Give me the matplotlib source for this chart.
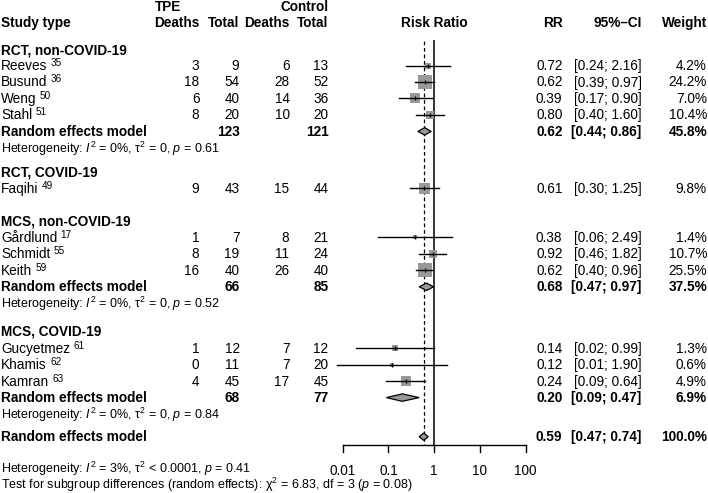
import matplotlib
matplotlib.use("Agg")
import matplotlib.pyplot as plt
from matplotlib.patches import Polygon

plt.rcParams['font.family'] = ['Liberation Sans', 'DejaVu Sans']
plt.rcParams['mathtext.fontset'] = 'custom'
plt.rcParams['mathtext.rm'] = 'Liberation Sans'
plt.rcParams['mathtext.it'] = 'Liberation Sans:italic'
plt.rcParams['mathtext.bf'] = 'Liberation Sans:bold'
plt.rcParams['mathtext.fallback'] = 'stixsans'

# ---- data ----
groups = ['RCT, non-COVID-19', 'RCT, COVID-19', 'MCS, non-COVID-19', 'MCS, COVID-19']
studies = ['Reeves', 'Busund', 'Weng', 'Stahl', 'Faqihi', 'Gårdlund', 'Schmidt', 'Keith',
           'Gucyetmez', 'Khamis', 'Kamran']
refs = [35, 36, 50, 51, 49, 17, 55, 59, 61, 62, 63]
tpe_deaths = [3, 18, 6, 8, 9, 1, 8, 16, 1, 0, 4]
tpe_total = [9, 54, 40, 20, 43, 7, 19, 40, 12, 11, 45]
ctl_deaths = [6, 28, 14, 10, 15, 8, 11, 26, 7, 7, 17]
ctl_total = [13, 52, 36, 20, 44, 21, 24, 40, 12, 20, 45]
rr = [0.72, 0.62, 0.39, 0.80, 0.61, 0.38, 0.92, 0.62, 0.14, 0.12, 0.24]
rr_lo = [0.24, 0.39, 0.17, 0.40, 0.30, 0.058, 0.46, 0.40, 0.0195, 0.0076, 0.09]
rr_hi = [2.16, 0.97, 0.90, 1.60, 1.25, 2.49, 1.82, 0.96, 0.99, 1.90, 0.64]
weight = [4.2, 24.2, 7.0, 10.4, 9.8, 1.4, 10.7, 25.5, 1.3, 0.6, 4.9]

# subgroup random effects (None = single study group)
sub_rr = [0.62, None, 0.68, 0.20]
sub_lo = [0.44, None, 0.47, 0.09]
sub_hi = [0.86, None, 0.97, 0.47]
sub_w = [45.8, None, 37.5, 6.9]
sub_tpe_total = [123, None, 66, 68]
sub_ctl_total = [121, None, 85, 77]
sub_het = [(0, '0', 0.61), None, (0, '0', 0.52), (0, '0', 0.84)]

all_rr, all_lo, all_hi, all_w = 0.59, 0.47, 0.74, 100.0
all_het = r"Heterogeneity: $I^2$ = 3%, τ$^2$ < 0.0001, $p$ = 0.41"
test_txt = r"Test for subgroup differences (random effects): χ$^2$ = 6.83, df = 3 ($p$ = 0.08)"
ticks = [0.01, 0.1, 1, 10, 100]
tick_labels = ['0.01', '0.1', '1', '10', '100']

# ---- layout (pixel rows, from top) ----
W, H = 708, 493
group_y = [50, 172.3, 220.7, 331]
study_y = [65.7, 81.9, 98.3, 114.8, 188.3, 237.3, 253.8, 270.3, 348, 364.5, 381]
sub_y = [131.4, None, 286.8, 397.6]
het_y = [148, None, 303.3, 414.2]
all_y = 436.7
axis_y = 445
box_px = [6, 14, 10, 8, 11, 5, 8, 14, 6, 5, 10]
bl = 4.6  # baseline offset from row centre

x_td, x_tt, x_cd, x_ct = 199.5, 239.5, 289.5, 328.5
x_rr, x_ci, x_w = 562.5, 641.5, 707

fs = 9.8
fs_het = 9.0
fs_sup = 7.2
gray = '#999999'

fig = plt.figure(figsize=(W / 100, H / 100), dpi=100)
ax = fig.add_axes([0, 0, 1, 1])
ax.set_xlim(0, W)
ax.set_ylim(H, 0)
ax.axis('off')

axf = fig.add_axes([342.7 / W, 0, 183 / W, 1])
axf.set_xscale('log')
axf.set_xlim(0.01, 100)
axf.set_ylim(H, 0)
axf.axis('off')
renderer = fig.canvas.get_renderer()


def txt(x, y, s, ha='left', bold=False, size=fs, a=None):
    return (a or ax).text(x, y + bl, s, fontsize=size, fontweight='bold' if bold else 'normal',
                          ha=ha, va='baseline', clip_on=False)


# headers
txt(155, 6, 'TPE', bold=True)
txt(x_ct, 6, 'Control', ha='right', bold=True)
txt(1, 22.5, 'Study type', bold=True)
for x, t in [(x_td, 'Deaths'), (x_tt, 'Total'), (x_cd, 'Deaths'), (x_ct, 'Total'),
             (x_rr, 'RR'), (x_ci, '95%–CI'), (x_w, 'Weight')]:
    txt(x, 22.5, t, ha='right', bold=True)
txt(1, 22.5, 'Risk Ratio', ha='center', bold=True, a=axf)


def diamond(est, lo, hi, y, h=7.4):
    p = Polygon([(lo, y), (est, y - h / 2), (hi, y), (est, y + h / 2)], closed=True,
                facecolor=gray, edgecolor='black', lw=0.9, zorder=4)
    axf.add_patch(p)


# group headers
for g, y in zip(groups, group_y):
    txt(1, y, g, bold=True)

# studies
for i in range(len(studies)):
    y = study_y[i]
    t = txt(1, y, studies[i])
    x_end = t.get_window_extent(renderer).x1
    txt(x_end + 3.5, y - 4.0, str(refs[i]), size=fs_sup)
    for x, v in [(x_td, tpe_deaths[i]), (x_tt, tpe_total[i]), (x_cd, ctl_deaths[i]), (x_ct, ctl_total[i])]:
        txt(x, y, str(v), ha='right')
    txt(x_rr, y, '%.2f' % rr[i], ha='right')
    txt(x_ci, y, '[%.2f; %.2f]' % (rr_lo[i], rr_hi[i]), ha='right')
    txt(x_w, y, '%.1f%%' % weight[i], ha='right')
    axf.plot([rr_lo[i], rr_hi[i]], [y, y], color='black', lw=1.0, zorder=3, clip_on=False)
    axf.plot([rr[i]], [y], marker='s', markersize=box_px[i] * 0.72, color=gray,
             markeredgewidth=0, zorder=2, clip_on=False)
    axf.plot([rr[i]], [y], marker='|', markersize=3.2, color='black', markeredgewidth=0.9,
             zorder=4, clip_on=False)

# subgroup summaries
for g in range(len(groups)):
    if sub_rr[g] is None:
        continue
    y = sub_y[g]
    txt(1, y, 'Random effects model', bold=True)
    txt(x_tt, y, str(sub_tpe_total[g]), ha='right', bold=True)
    txt(x_ct, y, str(sub_ctl_total[g]), ha='right', bold=True)
    txt(x_rr, y, '%.2f' % sub_rr[g], ha='right', bold=True)
    txt(x_ci, y, '[%.2f; %.2f]' % (sub_lo[g], sub_hi[g]), ha='right', bold=True)
    txt(x_w, y, '%.1f%%' % sub_w[g], ha='right', bold=True)
    diamond(sub_rr[g], sub_lo[g], sub_hi[g], y)
    i2, t2, p = sub_het[g]
    txt(1, het_y[g], r"Heterogeneity: $I^2$ = %d%%, τ$^2$ = %s, $p$ = %.2f" % (i2, t2, p),
        size=fs_het)

# overall
txt(1, all_y, 'Random effects model', bold=True)
txt(x_rr, all_y, '%.2f' % all_rr, ha='right', bold=True)
txt(x_ci, all_y, '[%.2f; %.2f]' % (all_lo, all_hi), ha='right', bold=True)
txt(x_w, all_y, '%.1f%%' % all_w, ha='right', bold=True)
diamond(all_rr, all_lo, all_hi, all_y)
txt(1, 468.8, all_het, size=fs_het)
txt(1, 484.3, test_txt, size=fs_het)

# reference lines
axf.plot([1, 1], [40.7, axis_y], color='#333333', lw=1.4, zorder=1)
axf.plot([all_rr, all_rr], [40.7, axis_y], color='black', lw=0.9, ls=(0, (3, 2.2)), zorder=1)

# x axis
axf.plot([ticks[0], ticks[-1]], [axis_y, axis_y], color='black', lw=1.0, clip_on=False)
for t, lab in zip(ticks, tick_labels):
    axf.plot([t, t], [axis_y, axis_y + 7], color='black', lw=1.0, clip_on=False)
    txt(t, 470, lab, ha='center', a=axf)

fig.savefig('out.png', dpi=100)
